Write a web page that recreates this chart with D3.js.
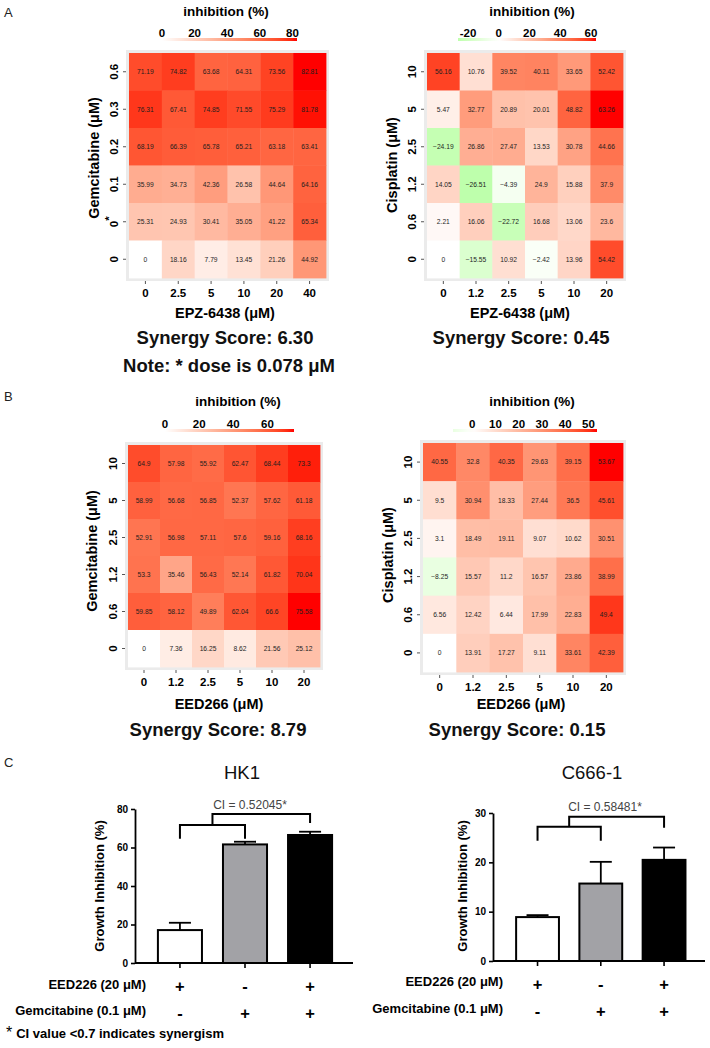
<!DOCTYPE html>
<html><head><meta charset="utf-8">
<script src="https://cdn.jsdelivr.net/npm/d3@7"></script>
<style>
body{margin:0;background:#fff;}
svg text{font-family:"Liberation Sans",Arial,Helvetica,sans-serif;}
</style></head><body>
<svg id="fig" width="710" height="1048"></svg>
<script>
// ---------------- DATA ----------------
// Panel A left: Gemcitabine x EPZ-6438
const aLeftX = ["0","2.5","5","10","20","40"];
const aLeftY = ["0.6","0.3","0.2","0.1","0*","0"];
const aLeftVals = [
  [71.19, 74.82, 63.68, 64.31, 73.56, 82.81],
  [76.31, 67.41, 74.85, 71.55, 75.29, 81.78],
  [68.19, 66.39, 65.78, 65.21, 63.18, 63.41],
  [35.99, 34.73, 42.36, 26.58, 44.64, 64.16],
  [25.31, 24.93, 30.41, 35.05, 41.22, 65.34],
  [0, 18.16, 7.79, 13.45, 21.26, 44.92]
];
const aLeftLegendTicks = [0, 20, 40, 60, 80];

// Panel A right: Cisplatin x EPZ-6438
const aRightX = ["0","1.2","2.5","5","10","20"];
const aRightY = ["10","5","2.5","1.2","0.6","0"];
const aRightVals = [
  [56.16, 10.76, 39.52, 40.11, 33.65, 52.42],
  [5.47, 32.77, 20.89, 20.01, 48.82, 63.26],
  [-24.19, 26.86, 27.47, 13.53, 30.78, 44.66],
  [14.05, -26.51, -4.39, 24.9, 15.88, 37.9],
  [2.21, 16.06, -22.72, 16.68, 13.06, 23.6],
  [0, -15.55, 10.92, -2.42, 13.96, 54.42]
];
const aRightLegendTicks = [-20, 0, 20, 40, 60];

// Panel B left: Gemcitabine x EED266
const bLeftX = ["0","1.2","2.5","5","10","20"];
const bLeftY = ["10","5","2.5","1.2","0.6","0"];
const bLeftVals = [
  [64.9, 57.98, 55.92, 62.47, 68.44, 73.3],
  [58.99, 56.68, 56.85, 52.37, 57.62, 61.18],
  [52.91, 56.98, 57.11, 57.6, 59.16, 68.16],
  [53.3, 35.46, 56.43, 52.14, 61.82, 70.04],
  [59.85, 58.12, 49.89, 62.04, 66.6, 75.58],
  [0, 7.36, 16.25, 8.62, 21.56, 25.12]
];
const bLeftLegendTicks = [0, 20, 40, 60];

// Panel B right: Cisplatin x EED266
const bRightX = ["0","1.2","2.5","5","10","20"];
const bRightY = ["10","5","2.5","1.2","0.6","0"];
const bRightVals = [
  [40.55, 32.8, 40.35, 29.63, 39.15, 53.67],
  [9.5, 30.94, 18.33, 27.44, 36.5, 45.61],
  [3.1, 18.49, 19.11, 9.07, 10.62, 30.51],
  [-8.25, 15.57, 11.2, 16.57, 23.86, 38.99],
  [6.56, 12.42, 6.44, 17.99, 22.83, 49.4],
  [0, 13.91, 17.27, 9.11, 33.61, 42.39]
];
const bRightLegendTicks = [0, 10, 20, 30, 40, 50];

// Panel C: growth inhibition
const barGroups = ["EED226", "Gemcitabine", "Combination"];
const eedSigns = ["+", "-", "+"];
const gemSigns = ["-", "+", "+"];
const hk1Means = [17.1, 61.6, 66.5];
const hk1Errs = [3.8, 1.4, 1.7];
const hk1Ticks = [0, 20, 40, 60, 80];
const c666Means = [8.9, 15.7, 20.5];
const c666Errs = [0.4, 4.4, 2.5];
const c666Ticks = [0, 10, 20, 30];
const barFills = ["#ffffff", "#a2a2a6", "#000000"];

// ---------------- DRAWING ----------------
const svg = d3.select("#fig");
const FONT = '"Liberation Sans",Arial,Helvetica,sans-serif';

function fmtCell(v) {
  const s = String(Math.abs(v));
  return v < 0 ? "\u2212" + s : s;
}

function drawHeatmap(o) {
  const g = svg.append("g");
  const x = d3.scaleBand().domain(o.xLabels).range([o.x0, o.x1]);
  const y = d3.scaleBand().domain(o.yLabels).range([o.y0, o.y1]);
  const flat = o.values.flat();
  const maxAbs = d3.max(flat, v => Math.abs(v));
  const red = d3.interpolateLab("#ffffff", "#ff0000");
  const green = d3.interpolateLab("#ffffff", "#00ff00");
  const color = v => v >= 0 ? red(v / maxAbs) : green(-v / maxAbs);
  const pad = 3;

  g.append("rect")
    .attr("x", o.x0 - pad).attr("y", o.y0 - pad)
    .attr("width", o.x1 - o.x0 + 2 * pad).attr("height", o.y1 - o.y0 + 2 * pad)
    .attr("fill", "#ebebeb");

  const cells = [];
  o.values.forEach((row, i) => row.forEach((v, j) => cells.push({ r: o.yLabels[i], c: o.xLabels[j], v })));

  g.selectAll("rect.cell").data(cells).join("rect").attr("class", "cell")
    .attr("x", d => x(d.c)).attr("y", d => y(d.r))
    .attr("width", x.bandwidth() + 0.4).attr("height", y.bandwidth() + 0.4)
    .attr("fill", d => color(d.v));

  g.selectAll("text.cell").data(cells).join("text").attr("class", "cell")
    .attr("x", d => x(d.c) + x.bandwidth() / 2)
    .attr("y", d => y(d.r) + y.bandwidth() / 2)
    .attr("dy", "0.35em").attr("text-anchor", "middle")
    .attr("font-size", 6.7).attr("fill", "#1e1e1e")
    .text(d => fmtCell(d.v));

  // x axis
  const xa = g.append("g").attr("transform", `translate(0,${o.y1 + pad})`)
    .call(d3.axisBottom(x).tickSize(3).tickPadding(5));
  xa.select(".domain").remove();
  xa.selectAll(".tick line").attr("stroke", "#555");
  xa.selectAll(".tick text").attr("font-size", 11.5).attr("font-weight", "bold").attr("fill", "#000");

  // y axis
  const ya = g.append("g").attr("transform", `translate(${o.x0 - pad},0)`)
    .call(d3.axisLeft(y).tickSize(3));
  ya.select(".domain").remove();
  ya.selectAll(".tick line").attr("stroke", "#555");
  ya.selectAll(".tick text")
    .attr("x", null).attr("dy", null).attr("text-anchor", "middle")
    .attr("transform", "translate(-8,0) rotate(-90)")
    .attr("font-size", 11.5).attr("font-weight", "bold").attr("fill", "#000")
    .each(function (d) {
      if (d.endsWith("*")) {
        const t = d3.select(this);
        t.text(d.slice(0, -1));
        t.append("tspan").attr("dy", "-0.4em").text("*");
      }
    });

  // axis titles
  g.append("text")
    .attr("transform", `translate(${o.yTitleX},${o.yTitleY}) rotate(-90)`)
    .attr("text-anchor", "middle").attr("font-size", 14.5).attr("font-weight", "bold")
    .text(o.yTitle);
  g.append("text").attr("x", o.xTitleX).attr("y", o.xTitleY)
    .attr("text-anchor", "middle").attr("font-size", 14.5).attr("font-weight", "bold")
    .text(o.xTitle);
  g.append("text").attr("x", o.synX).attr("y", o.synY)
    .attr("text-anchor", "middle").attr("font-size", 18.5).attr("font-weight", "bold")
    .attr("fill", "#111").text(o.synergy);
  if (o.note) {
    g.append("text").attr("x", o.noteX).attr("y", o.noteY)
      .attr("text-anchor", "middle").attr("font-size", 18.5).attr("font-weight", "bold")
      .attr("fill", "#111").text(o.note);
  }

  // legend
  const lmin = d3.min(flat), lmax = d3.max(flat);
  const ls = d3.scaleLinear().domain([lmin, lmax]).range(o.legBar);
  const gid = "grad" + o.id;
  const grad = svg.append("defs").append("linearGradient").attr("id", gid)
    .attr("x1", "0%").attr("x2", "100%").attr("y1", "0%").attr("y2", "0%");
  d3.range(0, 1.0001, 0.05).forEach(t => {
    grad.append("stop").attr("offset", (t * 100) + "%").attr("stop-color", color(lmin + t * (lmax - lmin)));
  });
  g.append("rect").attr("x", o.legBar[0]).attr("y", o.legBarY)
    .attr("width", o.legBar[1] - o.legBar[0]).attr("height", 3)
    .attr("fill", `url(#${gid})`);
  g.append("text").attr("x", o.legCx).attr("y", o.legTitleY)
    .attr("text-anchor", "middle").attr("font-size", 13.5).attr("font-weight", "bold")
    .text("inhibition (%)");
  g.selectAll("text.legtick").data(o.legTicks).join("text").attr("class", "legtick")
    .attr("x", d => ls(d)).attr("y", o.legBarY - 1.5)
    .attr("text-anchor", "middle").attr("font-size", 11.5).attr("font-weight", "bold")
    .text(d => String(d));
}

drawHeatmap({
  id: "al", xLabels: aLeftX, yLabels: aLeftY, values: aLeftVals,
  x0: 129, x1: 326, y0: 53, y1: 278,
  yTitle: "Gemcitabine (\u03bcM)", yTitleX: 99, yTitleY: 158,
  xTitle: "EPZ-6438 (\u03bcM)", xTitleX: 225, xTitleY: 318,
  synergy: "Synergy Score: 6.30", synX: 225, synY: 344,
  note: "Note: * dose is 0.078 \u03bcM", noteX: 229, noteY: 372,
  legCx: 226, legTitleY: 16, legBar: [162, 297], legBarY: 38, legTicks: aLeftLegendTicks
});
drawHeatmap({
  id: "ar", xLabels: aRightX, yLabels: aRightY, values: aRightVals,
  x0: 427, x1: 623, y0: 53, y1: 278,
  yTitle: "Cisplatin (\u03bcM)", yTitleX: 397, yTitleY: 165,
  xTitle: "EPZ-6438 (\u03bcM)", xTitleX: 520, xTitleY: 318,
  synergy: "Synergy Score: 0.45", synX: 521, synY: 344,
  legCx: 532, legTitleY: 16, legBar: [458, 596], legBarY: 38, legTicks: aRightLegendTicks
});
drawHeatmap({
  id: "bl", xLabels: bLeftX, yLabels: bLeftY, values: bLeftVals,
  x0: 128, x1: 320, y0: 445, y1: 667,
  yTitle: "Gemcitabine (\u03bcM)", yTitleX: 97, yTitleY: 551,
  xTitle: "EED266 (\u03bcM)", xTitleX: 219, xTitleY: 709,
  synergy: "Synergy Score: 8.79", synX: 218, synY: 736,
  legCx: 238, legTitleY: 406, legBar: [165, 294], legBarY: 429, legTicks: bLeftLegendTicks
});
drawHeatmap({
  id: "br", xLabels: bRightX, yLabels: bRightY, values: bRightVals,
  x0: 423, x1: 623, y0: 443, y1: 672,
  yTitle: "Cisplatin (\u03bcM)", yTitleX: 393, yTitleY: 555,
  xTitle: "EED266 (\u03bcM)", xTitleX: 521, xTitleY: 709,
  synergy: "Synergy Score: 0.15", synX: 517, synY: 736,
  legCx: 532, legTitleY: 406, legBar: [453, 597], legBarY: 429, legTicks: bRightLegendTicks
});

// panel letters
[["A", 4, 17], ["B", 4, 401], ["C", 4, 767]].forEach(([t, px, py]) => {
  svg.append("text").attr("x", px).attr("y", py).attr("font-size", 13).attr("fill", "#222").text(t);
});

function drawBars(o) {
  const g = svg.append("g");
  const x = d3.scaleBand().domain(barGroups).range(o.xRange).paddingInner(0.323).paddingOuter(0.16);
  const y = d3.scaleLinear().domain([0, o.yMax]).range([o.yBottom, o.yTop]);
  const cx = d => x(d) + x.bandwidth() / 2;

  g.append("text").attr("x", o.titleX).attr("y", 779).attr("text-anchor", "middle")
    .attr("font-size", 18.5).attr("fill", "#111").text(o.title);

  const ya = g.append("g").attr("transform", `translate(${o.axisX},0)`)
    .call(d3.axisLeft(y).tickValues(o.ticks).tickSize(4).tickSizeOuter(0).tickPadding(3));
  ya.select(".domain").attr("stroke", "#000").attr("stroke-width", 1.8);
  ya.selectAll(".tick line").attr("stroke", "#000").attr("stroke-width", 1.6);
  ya.selectAll(".tick text").attr("font-size", 10).attr("font-weight", "bold").attr("fill", "#000");

  g.append("text")
    .attr("transform", `translate(${o.yTitleX},886) rotate(-90)`)
    .attr("text-anchor", "middle").attr("font-size", 13).attr("font-weight", "bold")
    .text("Growth Inhibition (%)");

  // x axis line and ticks
  g.append("line").attr("x1", o.axisX).attr("x2", o.xEnd)
    .attr("y1", y(0)).attr("y2", y(0)).attr("stroke", "#000").attr("stroke-width", 1.8);
  g.selectAll("line.xt").data(barGroups).join("line").attr("class", "xt")
    .attr("x1", cx).attr("x2", cx).attr("y1", y(0)).attr("y2", y(0) + 5)
    .attr("stroke", "#000").attr("stroke-width", 1.6);

  const data = barGroups.map((k, i) => ({ k, m: o.means[i], e: o.errs[i], f: barFills[i] }));
  // error bars
  g.selectAll("line.eb").data(data).join("line").attr("class", "eb")
    .attr("x1", d => cx(d.k)).attr("x2", d => cx(d.k))
    .attr("y1", d => y(d.m)).attr("y2", d => y(d.m + d.e))
    .attr("stroke", "#000").attr("stroke-width", 1.8);
  g.selectAll("line.ec").data(data).join("line").attr("class", "ec")
    .attr("x1", d => cx(d.k) - 11).attr("x2", d => cx(d.k) + 11)
    .attr("y1", d => y(d.m + d.e)).attr("y2", d => y(d.m + d.e))
    .attr("stroke", "#000").attr("stroke-width", 1.8);
  // bars
  g.selectAll("rect.bar").data(data).join("rect").attr("class", "bar")
    .attr("x", d => x(d.k)).attr("width", x.bandwidth())
    .attr("y", d => y(d.m)).attr("height", d => y(0) - y(d.m))
    .attr("fill", d => d.f).attr("stroke", "#000").attr("stroke-width", 2);

  // brackets
  const b = o.bracket;
  const x0 = cx(barGroups[0]), x1 = cx(barGroups[1]), x2 = cx(barGroups[2]);
  const xm = (x0 + x1) / 2;
  const path = d3.path();
  path.moveTo(x0, y(b.legs)); path.lineTo(x0, y(b.low)); path.lineTo(x1, y(b.low)); path.lineTo(x1, y(b.legs));
  path.moveTo(xm, y(b.low)); path.lineTo(xm, y(b.high)); path.lineTo(x2, y(b.high)); path.lineTo(x2, y(b.rightLeg));
  g.append("path").attr("d", path.toString()).attr("fill", "none")
    .attr("stroke", "#000").attr("stroke-width", 2);
  g.append("text").attr("x", o.ciX).attr("y", y(b.ci)).attr("text-anchor", "middle")
    .attr("font-size", 12).attr("fill", "#444").text(o.ciText);

  // treatment rows
  [["EED226 (20 \u03bcM)", eedSigns, o.row1], ["Gemcitabine (0.1 \u03bcM)", gemSigns, o.row2]].forEach(([lab, signs, yy]) => {
    g.append("text").attr("x", o.labelRight).attr("y", yy - 3.5).attr("text-anchor", "end")
      .attr("font-size", 13).attr("font-weight", "bold").text(lab);
    g.selectAll(null).data(signs).join("text")
      .attr("x", (d, i) => cx(barGroups[i])).attr("y", yy)
      .attr("text-anchor", "middle").attr("font-size", 16.5).attr("font-weight", "bold")
      .text(d => d);
  });
}

drawBars({
  title: "HK1", titleX: 242, means: hk1Means, errs: hk1Errs, ticks: hk1Ticks, yMax: 80,
  xRange: [147.5, 342.5], yBottom: 963, yTop: 809, axisX: 135, xEnd: 353, yTitleX: 104,
  bracket: { low: 71.7, legs: 64.5, high: 77.4, rightLeg: 72.7, ci: 80 },
  ciX: 250, ciText: "CI = 0.52045*", labelRight: 146, row1: 992, row2: 1018.5
});
drawBars({
  title: "C666-1", titleX: 592, means: c666Means, errs: c666Errs, ticks: c666Ticks, yMax: 30,
  xRange: [506, 695.6], yBottom: 961, yTop: 813, axisX: 493, xEnd: 705, yTitleX: 467,
  bracket: { low: 27.2, legs: 24.4, high: 29.25, rightLeg: 27.0, ci: 30.5 },
  ciX: 605, ciText: "CI = 0.58481*", labelRight: 503, row1: 989.5, row2: 1016.5
});

// footnote
const fn = svg.append("text").attr("x", 6).attr("y", 1038).attr("font-weight", "bold").attr("font-size", 13);
fn.append("tspan").attr("font-size", 16).attr("font-weight", "normal").attr("dy", "0").text("*");
fn.append("tspan").attr("dx", 4).text("CI value <0.7 indicates synergism");
</script>
</body></html>
